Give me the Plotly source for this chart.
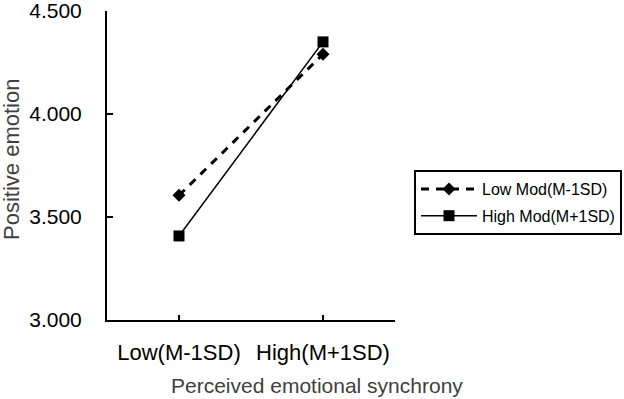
import plotly.graph_objects as go

categories = ["Low(M-1SD)", "High(M+1SD)"]
low_mod = [3.605, 4.29]
high_mod = [3.408, 4.35]
series_names = ["Low Mod(M-1SD)", "High Mod(M+1SD)"]
y_ticks = [3.0, 3.5, 4.0, 4.5]
y_ticktext = ["3.000", "3.500", "4.000", "4.500"]
x_title = "Perceived emotional synchrony"
y_title = "Positive emotion"

xpos = list(range(len(categories)))
FONT = "Liberation Sans, Arial, sans-serif"

fig = go.Figure()
fig.add_trace(go.Scatter(
    x=xpos, y=low_mod, name=series_names[0], mode="lines+markers",
    legendgroup="a",
    line=dict(color="black", width=3, dash="8px,7px"),
    marker=dict(symbol="diamond", size=10, color="black"),
))
fig.add_trace(go.Scatter(
    x=xpos, y=high_mod, name=series_names[1], mode="lines+markers",
    legendgroup="b",
    line=dict(color="black", width=1.5),
    marker=dict(symbol="square", size=11, color="black"),
))

fig.update_layout(
    width=624, height=399,
    margin=dict(l=107, r=229, t=11, b=79, autoexpand=False),
    paper_bgcolor="white", plot_bgcolor="white",
    font=dict(family=FONT, color="black"),
    showlegend=True,
    legend=dict(
        xref="container", yref="container",
        x=414 / 624, y=1 - 170 / 399, xanchor="left", yanchor="top",
        bordercolor="black", borderwidth=2,
        font=dict(size=16, color="black", family=FONT),
        traceorder="grouped", tracegroupgap=3,
        itemwidth=56,
    ),
    xaxis=dict(
        range=[-0.5, 1.5],
        tickmode="array", tickvals=xpos + [1.5], ticktext=categories + [""],
        showline=True, linecolor="black", linewidth=2,
        ticks="inside", ticklen=5, tickcolor="black", tickwidth=2,
        ticklabelstandoff=12, ticklabeloverflow="allow",
        showgrid=False, zeroline=False, automargin=False,
        tickfont=dict(size=22, color="black", family=FONT),
    ),
    yaxis=dict(
        range=[3.0, 4.5],
        tickmode="array", tickvals=y_ticks, ticktext=y_ticktext,
        showline=True, linecolor="black", linewidth=2,
        ticks="inside", ticklen=6, tickcolor="black", tickwidth=2,
        ticklabelstandoff=19, ticklabeloverflow="allow",
        showgrid=False, zeroline=False, automargin=False,
        tickfont=dict(size=21, color="black", family=FONT),
    ),
    annotations=[
        dict(text=x_title, xref="paper", yref="paper",
             x=(316.5 - 107) / 288, y=(320 - 385) / 309,
             xanchor="center", yanchor="middle", showarrow=False,
             font=dict(size=21, color="#404040", family=FONT)),
        dict(text=y_title, xref="paper", yref="paper",
             x=(11 - 107) / 288, y=(320 - 160) / 309, textangle=-90,
             xanchor="center", yanchor="middle", showarrow=False,
             font=dict(size=22, color="#404040", family=FONT)),
    ],
)

fig.write_html(
    "out.html",
    config={"displayModeBar": False},
    post_script=(
        "document.body.style.margin='0';document.body.style.padding='0';"
        "document.body.style.overflow='hidden';"
        "document.documentElement.style.overflow='hidden';"
    ),
)
